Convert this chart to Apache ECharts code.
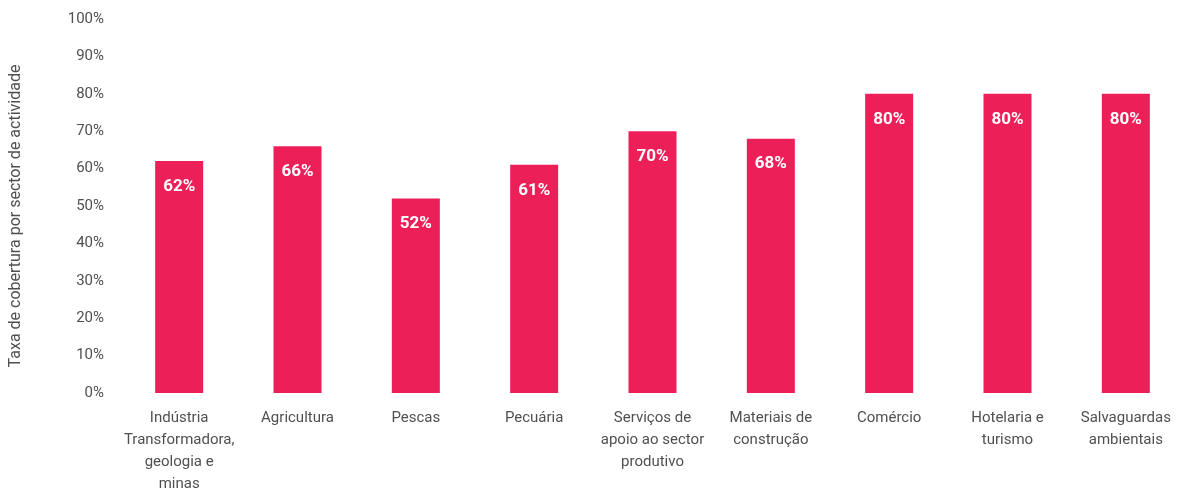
<!DOCTYPE html>
<html>
<head>
<meta charset="utf-8">
<script src="https://cdn.jsdelivr.net/npm/echarts@6/dist/echarts.min.js"></script>
<style>
  html, body { margin: 0; padding: 0; background: #fff; }
  #chart { width: 1185px; height: 500px; }
</style>
</head>
<body>
<div id="chart"></div>
<script>
// sectors (line breaks as in the original figure)
var sectors = [
  "Indústria\nTransformadora,\ngeologia e\nminas",
  "Agricultura",
  "Pescas",
  "Pecuária",
  "Serviços de\napoio ao sector\nprodutivo",
  "Materiais de\nconstrução",
  "Comércio",
  "Hotelaria e\nturismo",
  "Salvaguardas\nambientais"
];
// coverage rate, %
var coverage = [62, 66, 52, 61, 70, 68, 80, 80, 80];
var yTicks = [0, 10, 20, 30, 40, 50, 60, 70, 80, 90, 100];

// no narrow font installed, Roboto is the closest
var font = "Roboto, 'Liberation Sans', sans-serif";
var grey = "#505050";

var chart = echarts.init(document.getElementById("chart"));

chart.setOption({
  animation: false,
  textStyle: { fontFamily: font },
  grid: { left: 120, top: 19, width: 1072, bottom: 107, containLabel: false },
  xAxis: {
    type: "category",
    data: sectors,
    axisLine: { show: false },
    axisTick: { show: false },
    axisLabel: {
      interval: 0,
      margin: 14,
      color: grey,
      fontFamily: font,
      fontSize: 15,
      lineHeight: 22
    }
  },
  yAxis: {
    type: "value",
    min: yTicks[0],
    max: yTicks[yTicks.length - 1],
    interval: 10,
    splitLine: { show: false },
    axisLine: { show: false },
    axisTick: { show: false },
    axisLabel: {
      margin: 16,
      color: grey,
      fontFamily: font,
      fontSize: 15,
      formatter: "{value}%"
    },
    name: "Taxa de cobertura por sector de actividade",
    nameLocation: "middle",
    nameGap: 96,
    nameTextStyle: { color: grey, fontFamily: font, fontSize: 16, padding: [0, 20, 0, 0] }
  },
  series: [{
    type: "bar",
    data: coverage,
    barWidth: 48,
    itemStyle: { color: "#EC1F58" },
    label: {
      show: true,
      position: "insideTop",
      distance: 17,
      color: "#fff",
      fontFamily: font,
      fontWeight: "bold",
      fontSize: 17,
      formatter: "{c}%"
    }
  }]
});
</script>
</body>
</html>
